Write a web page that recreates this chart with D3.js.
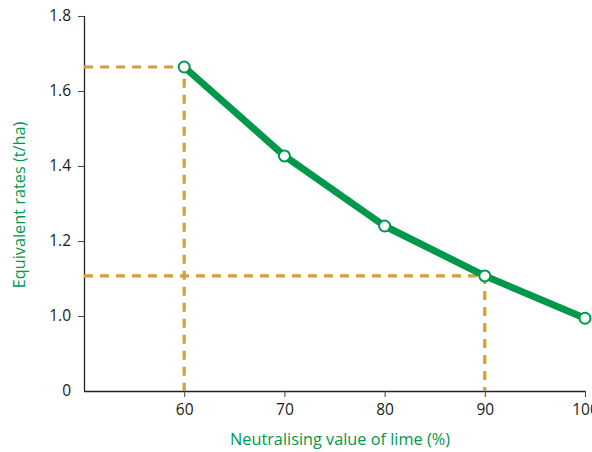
<!DOCTYPE html>
<html><head><meta charset="utf-8">
<script src="https://cdn.jsdelivr.net/npm/d3@7"></script>
<style>body{margin:0;background:#fff}svg{display:block}</style>
</head><body>
<svg id="c" width="592" height="452"></svg>
<script>
const neutralisingValue = [60, 70, 80, 90, 100];
const equivalentRate = [1.664, 1.427, 1.24, 1.107, 0.994];
const xTicks = [60, 70, 80, 90, 100];
const yTicks = [0.8, 1.0, 1.2, 1.4, 1.6, 1.8];
const yTickLabels = ["0", "1.0", "1.2", "1.4", "1.6", "1.8"];
const guidePoints = [0, 3]; // indices of points with dashed guides

const svg = d3.select("#c");
const font = "'Open Sans', 'Noto Sans', sans-serif";
const green = "#00984a";
const gold = "#d2a034";

const x = d3.scaleLinear().domain([50, 100]).range([84, 585]);
const y = d3.scaleLinear().domain([0.8, 1.8]).range([391, 16]);

const xAxis = svg.append("g").attr("transform", "translate(0,391)")
  .call(d3.axisBottom(x).tickValues(xTicks).tickSize(6).tickPadding(7).tickFormat(d3.format("d")));
const yAxis = svg.append("g").attr("transform", "translate(84,0)")
  .call(d3.axisLeft(y).tickValues(yTicks).tickSize(6).tickPadding(7).tickFormat((d,i)=>yTickLabels[i]));
[xAxis, yAxis].forEach(g => {
  g.attr("font-size", null).attr("font-family", null);
  g.select(".domain").attr("stroke", "#222").attr("stroke-width", 1.3);
  g.selectAll(".tick line").attr("stroke", "#444").attr("stroke-width", 1);
  g.selectAll(".tick text").style("font-family", font).style("font-size", "15.5px").attr("fill", "#1a1a1a");
});
yAxis.selectAll(".tick").filter(d => d === 0.8).select("line").remove();
xAxis.select(".domain").attr("d", `M${x(50)},0.5H${x(100)}`);
yAxis.select(".domain").attr("d", `M0.5,${y(0.8)}V${y(1.8)}`);

// dashed guides
guidePoints.forEach(i => {
  const px = x(neutralisingValue[i]), py = y(equivalentRate[i]);
  svg.append("path")
    .attr("d", `M${x(50)},${py}H${px}V${y(0.8)}`)
    .attr("fill", "none").attr("stroke", gold).attr("stroke-width", 3.2)
    .attr("stroke-dasharray", "9,7");
});

const pts = neutralisingValue.map((v, i) => [v, equivalentRate[i]]);
svg.append("path").datum(pts)
  .attr("d", d3.line().x(d => x(d[0])).y(d => y(d[1])))
  .attr("fill", "none").attr("stroke", green).attr("stroke-width", 7)
  .attr("stroke-linejoin", "round");

svg.selectAll("circle.pt").data(pts).enter().append("circle")
  .attr("class", "pt")
  .attr("cx", d => x(d[0])).attr("cy", d => y(d[1])).attr("r", 5.5)
  .attr("fill", "#fff").attr("stroke", green).attr("stroke-width", 2);

svg.append("text").attr("x", 340).attr("y", 445).attr("text-anchor", "middle")
  .style("font-family", font).style("font-size", "16.3px").attr("fill", green)
  .text("Neutralising value of lime (%)");
svg.append("text").attr("transform", "translate(25,205) rotate(-90)").attr("text-anchor", "middle")
  .style("font-family", font).style("font-size", "16.3px").attr("fill", green)
  .text("Equivalent rates (t/ha)");
</script>
</body></html>
